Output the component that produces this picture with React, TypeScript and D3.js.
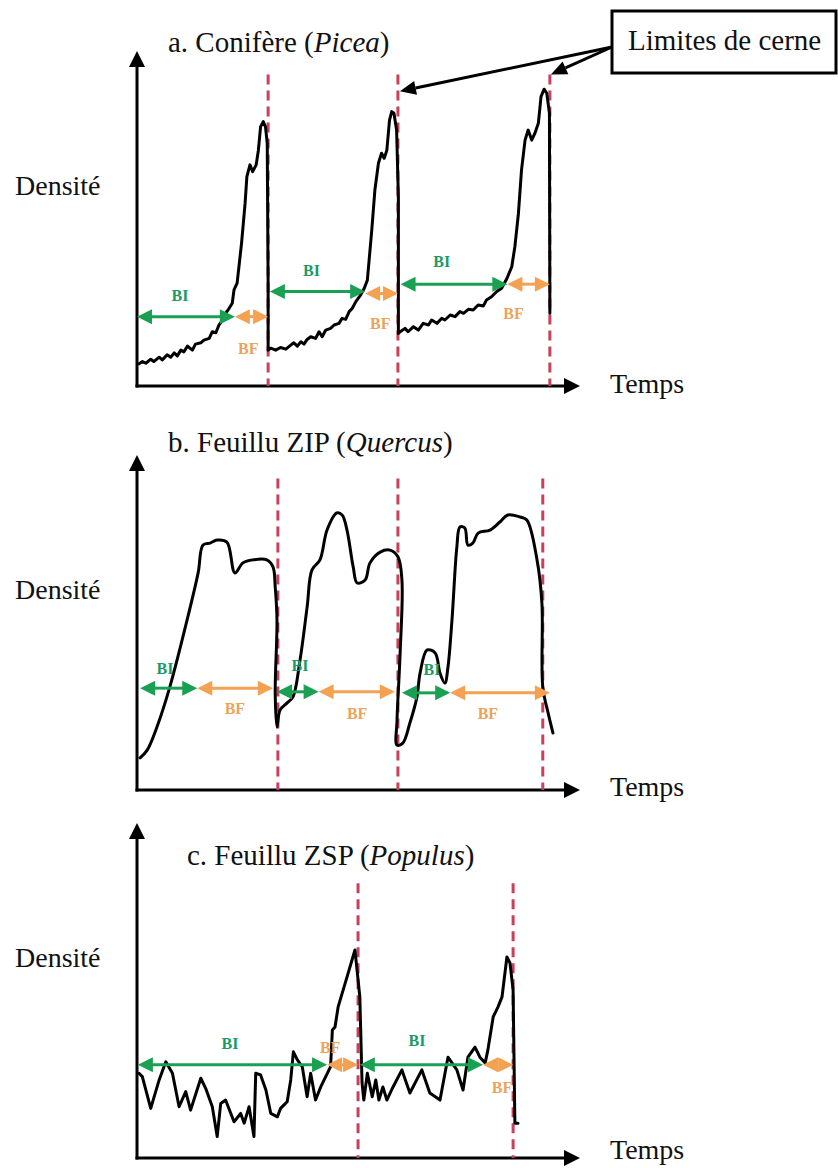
import React from 'react';
import * as d3 from 'd3';

type Pt = [number, number];
type Zone = [string, number, number, number];
type Label = [string, number, number];

// time (0-100) vs relative density (0-100)

// a. Conifère (Picea)
const piceaProfile: Pt[] = [
  [0.45, 6.6], [1.2, 7.3], [2.0, 6.8], [3.1, 8.0], [3.8, 7.3], [5.0, 8.6], [5.7, 7.8], [6.8, 9.3],
  [7.6, 8.6], [8.4, 9.9], [9.1, 9.0], [9.9, 10.7], [10.6, 10.2], [11.4, 11.9], [12.5, 10.7],
  [13.2, 12.5], [14.4, 12.9], [15.1, 13.7], [16.3, 14.2], [17.0, 16.2], [17.8, 15.9], [18.5, 18.2],
  [19.3, 19.7], [20.0, 21.7], [20.8, 23.2], [21.5, 24.7], [21.9, 28.7], [22.6, 30.7],
  [23.6, 42.6], [24.4, 54.5], [24.8, 62.5],
  [25.5, 66.0], [26.1, 64.0], [26.9, 66.0], [27.4, 70.4], [27.9, 77.4], [28.5, 78.9], [29.0, 77.4],
  [29.4, 72.4], [29.6, 30.0], [29.6, 10.7],
  [30.2, 11.3], [31.3, 10.7], [32.4, 11.5], [33.6, 11.0], [34.7, 12.2], [35.4, 12.9], [36.2, 11.9],
  [37.0, 13.2], [37.7, 12.5], [38.4, 13.9], [39.2, 14.7], [40.3, 14.2], [41.1, 16.2], [41.8, 14.7],
  [42.6, 16.7], [43.7, 17.2], [44.5, 18.2], [45.6, 18.7], [46.3, 20.2], [47.1, 19.9], [47.9, 22.2],
  [48.6, 23.2], [49.4, 25.2], [50.5, 27.2], [51.3, 29.2], [52.0, 31.6],
  [53.0, 46.6], [53.7, 58.5], [54.5, 66.5], [55.2, 69.5],
  [55.8, 68.0], [56.4, 70.4], [57.0, 79.4], [57.5, 81.9], [58.0, 81.4], [58.6, 76.4], [59.0, 56.5],
  [59.0, 15.7],
  [59.4, 16.2], [60.5, 17.2], [61.2, 16.2], [62.4, 17.7], [63.5, 16.7], [64.6, 18.7], [65.8, 18.2],
  [66.5, 19.7], [67.7, 18.7], [68.8, 20.2], [69.5, 19.7], [70.7, 21.2], [71.8, 20.7], [72.9, 22.2],
  [73.7, 21.7], [74.8, 22.9], [75.9, 22.7], [77.0, 24.2], [78.2, 23.9], [78.9, 25.7], [80.1, 26.7],
  [81.2, 28.2], [82.3, 29.2], [83.5, 32.1], [84.6, 35.6], [85.3, 41.6], [86.1, 51.5], [86.8, 64.5],
  [87.6, 73.4], [88.3, 76.4], [89.1, 73.4], [89.8, 75.4], [90.6, 78.4], [91.2, 86.4], [91.9, 88.6],
  [92.5, 87.4], [93.1, 81.4], [93.2, 21.7],
];
const piceaLimits = [29.6, 58.9, 93.2];
const piceaZones: Zone[] = [
  ['BI', 0, 22.1, 20.7], ['BF', 22.1, 29.6, 20.7],
  ['BI', 30.0, 51.5, 28.2], ['BF', 51.5, 58.9, 27.6],
  ['BI', 59.5, 83.6, 30.4], ['BF', 83.6, 93.2, 30.4],
];
const piceaLabels: Label[] = [
  ['BI', 9.7, 27.0], ['BF', 25.1, 11.3], ['BI', 39.4, 34.6], ['BF', 54.9, 18.7], ['BI', 68.8, 37.1], ['BF', 85.0, 21.7],
];

// b. Feuillu ZIP (Quercus)
const quercusProfile: Pt[] = [
  [0.7, 9.6], [2.3, 11.9], [4.5, 18.8], [7.4, 30.7], [11.3, 50.7], [13.8, 64.8], [14.9, 73.1],
  [16.5, 73.7], [18.1, 74.6], [20.3, 74.0], [22.1, 64.8], [23.9, 67.8], [26.2, 68.7], [29.3, 68.7],
  [30.7, 66.6], [31.2, 60.6], [31.6, 50.7], [31.2, 29.0], [31.6, 18.8], [32.3, 23.9], [33.9, 26.0],
  [35.2, 27.8], [36.8, 38.8], [38.4, 54.6], [39.5, 65.7], [41.3, 68.7], [42.9, 77.6], [45.1, 82.7],
  [46.3, 82.1], [47.4, 77.6], [48.8, 66.6], [49.7, 61.8], [51.5, 62.7], [52.6, 67.8], [54.9, 71.0],
  [57.1, 71.6], [58.9, 69.6], [59.8, 62.7], [59.4, 40.9], [58.7, 20.9], [58.7, 13.4], [60.0, 14.0],
  [61.6, 20.0], [63.2, 27.8], [63.9, 34.9], [65.5, 41.8], [67.3, 40.9], [68.4, 34.9], [69.5, 31.9],
  [70.2, 36.7], [71.1, 50.7], [72.2, 72.5], [72.9, 78.5], [74.0, 78.2], [74.7, 73.1], [75.8, 73.7],
  [77.0, 76.7], [79.7, 77.6], [81.9, 80.0], [83.7, 82.1], [86.5, 81.5], [88.0, 80.6], [90.3, 68.7],
  [91.4, 55.8], [91.6, 30.7], [92.8, 23.0], [93.9, 17.0],
];
const quercusLimits = [31.8, 58.9, 91.6];
const quercusZones: Zone[] = [
  ['BI', 0.7, 13.6, 30.4], ['BF', 13.6, 30.7, 30.4],
  ['BI', 31.6, 41.0, 29.3], ['BF', 41.0, 58.2, 29.3],
  ['BI', 59.8, 70.7, 29.0], ['BF', 70.7, 93.2, 29.0],
];
const quercusLabels: Label[] = [
  ['BI', 6.3, 36.4], ['BF', 22.1, 24.5], ['BI', 36.8, 37.3], ['BF', 49.7, 23.0], ['BI', 66.6, 36.1], ['BF', 79.2, 23.0],
];

// c. Feuillu ZSP (Populus)
const populusProfile: Pt[] = [
  [0.45, 25.3], [1.2, 24.3], [3.1, 14.8], [5.0, 23.3], [6.5, 28.7], [8.0, 25.3], [9.5, 15.3],
  [11.0, 19.8], [12.1, 14.3], [14.4, 23.8], [15.5, 20.8], [17.0, 15.3], [18.1, 6.4], [18.9, 16.3],
  [20.0, 17.3], [21.9, 10.8], [23.4, 13.3], [24.2, 10.4], [25.3, 15.3], [26.4, 6.4], [26.8, 25.3],
  [27.9, 24.8], [29.1, 20.3], [30.2, 13.3], [31.7, 12.3], [32.4, 14.8], [33.9, 16.8], [34.7, 23.3],
  [35.3, 31.7], [36.2, 29.3], [37.3, 27.3], [38.4, 18.3], [39.2, 25.3], [40.3, 17.3], [41.5, 21.3],
  [42.6, 24.3], [43.7, 27.3], [44.1, 38.2], [44.7, 39.1], [45.4, 45.1], [47.4, 54.0],
  [49.2, 62.1], [50.3, 48.1], [50.8, 22.4], [51.2, 17.3], [52.0, 25.3], [53.1, 18.3], [53.9, 23.3],
  [54.6, 17.3], [55.5, 21.2], [56.4, 17.3], [57.8, 21.2], [59.8, 26.3], [61.6, 19.4], [64.3, 26.3],
  [66.1, 19.4], [68.4, 17.3], [70.2, 30.1], [72.2, 26.3], [73.6, 20.3], [74.7, 30.1], [76.3, 33.1],
  [77.4, 30.1], [78.6, 28.4], [79.2, 32.2], [80.4, 42.1], [81.5, 45.1], [82.4, 48.1], [83.5, 60.0],
  [84.2, 58.2], [84.9, 50.1], [85.3, 10.4], [86.0, 10.4],
];
const populusLimits = [49.9, 84.9];
const populusZones: Zone[] = [
  ['BI', 0.2, 42.9, 27.8], ['BF', 42.9, 49.9, 27.8],
  ['BI', 50.3, 78.1, 27.8], ['BF', 78.1, 84.9, 27.8],
];
const populusLabels: Label[] = [
  ['BI', 21.0, 34.3], ['BF', 43.6, 33.1], ['BI', 63.2, 35.2], ['BF', 82.4, 21.2],
];

const W = 838;
const H = 1168;
const FONT = '"Liberation Serif", "Times New Roman", serif';
const GREEN = '#19a052';
const ORANGE = '#f4a152';
const GREEN_TXT = '#1b9a66';
const ORANGE_TXT = '#eca35c';
const RED = '#c8405c';

const x = d3.scaleLinear().domain([0, 100]).range([137, 580]);

const panels = [
  { title: 'a. Conifère (', genus: 'Picea', tx: 168, ty: 52, base: 386, tempsY: 393, data: piceaProfile, limits: piceaLimits, limitTop: 93, zones: piceaZones, labels: piceaLabels, smooth: false },
  { title: 'b. Feuillu ZIP (', genus: 'Quercus', tx: 168, ty: 452, base: 790, tempsY: 796, data: quercusProfile, limits: quercusLimits, limitTop: 93, zones: quercusZones, labels: quercusLabels, smooth: true },
  { title: 'c. Feuillu ZSP (', genus: 'Populus', tx: 187, ty: 865, base: 1158, tempsY: 1159, data: populusProfile, limits: populusLimits, limitTop: 82, zones: populusZones, labels: populusLabels, smooth: false },
];

function DoubleArrow({ x1, x2, y, color }: { x1: number; x2: number; y: number; color: string }) {
  const half = 7.5;
  const h = Math.min(15, (x2 - x1) / 2);
  return (
    <g fill={color}>
      {x2 - x1 > 2 * h + 1 && (
        <line x1={x1 + h - 1} x2={x2 - h + 1} y1={y} y2={y} stroke={color} strokeWidth={3} />
      )}
      <path d={`M${x1},${y}L${x1 + h},${y - half}L${x1 + h},${y + half}Z`} />
      <path d={`M${x2},${y}L${x2 - h},${y - half}L${x2 - h},${y + half}Z`} />
    </g>
  );
}

function Pointer({ from, to }: { from: Pt; to: Pt }) {
  const [x0, y0] = from;
  const [x1, y1] = to;
  const a = Math.atan2(y1 - y0, x1 - x0);
  const len = 16;
  const half = 7;
  const bx = x1 - len * Math.cos(a);
  const by = y1 - len * Math.sin(a);
  const px = -Math.sin(a) * half;
  const py = Math.cos(a) * half;
  return (
    <g>
      <line x1={x0} y1={y0} x2={bx} y2={by} stroke="#000" strokeWidth={3} />
      <path d={`M${x1},${y1}L${bx + px},${by + py}L${bx - px},${by - py}Z`} fill="#000" />
    </g>
  );
}

export default function App() {
  const boxAnchor: Pt = [612, 47];
  const yA = d3.scaleLinear().domain([0, 100]).range([386, 51]);
  return (
    <svg width={W} height={H} style={{ position: 'absolute', left: 0, top: 0, background: '#fff' }} fontFamily={FONT}>
      {panels.map((p, i) => {
        const y = d3.scaleLinear().domain([0, 100]).range([p.base, p.base - 335]);
        const line = d3
          .line<Pt>()
          .x(d => x(d[0]))
          .y(d => y(d[1]))
          .curve(p.smooth ? d3.curveCatmullRom.alpha(0.5) : d3.curveLinear);
        const x0 = x(0);
        const xEnd = x(100);
        const yTop = y(100);
        return (
          <g key={i}>
            {/* axes */}
            <line x1={x0} x2={x0} y1={p.base + 1.5} y2={yTop + 14} stroke="#000" strokeWidth={3} />
            <path d={`M${x0},${yTop}L${x0 - 8},${yTop + 16}L${x0 + 8},${yTop + 16}Z`} fill="#000" />
            <line x1={x0 - 1.5} x2={xEnd - 14} y1={p.base} y2={p.base} stroke="#000" strokeWidth={3} />
            <path d={`M${xEnd},${p.base}L${xEnd - 16},${p.base - 8}L${xEnd - 16},${p.base + 8}Z`} fill="#000" />

            <text x={p.tx} y={p.ty} fontSize={29} fill="#111">
              {p.title}
              <tspan fontStyle="italic">{p.genus}</tspan>)
            </text>
            <text x={15} y={p.base - 191} fontSize={28} fill="#111">Densité</text>
            <text x={610} y={p.tempsY} fontSize={28} fill="#111">Temps</text>

            {/* ring limits */}
            {p.limits.map((t, j) => (
              <line key={j} x1={x(t)} x2={x(t)} y1={y(p.limitTop)} y2={p.base} stroke={RED} strokeWidth={3} strokeDasharray="10 6" />
            ))}

            {/* density profile */}
            <path d={line(p.data) ?? ''} fill="none" stroke="#000" strokeWidth={3} strokeLinejoin="round" strokeLinecap="round" />

            {/* BI / BF */}
            {p.zones.map((z, j) => (
              <DoubleArrow key={j} x1={x(z[1])} x2={x(z[2])} y={y(z[3])} color={z[0] === 'BI' ? GREEN : ORANGE} />
            ))}
            {p.labels.map((l, j) => (
              <text key={j} x={x(l[1])} y={y(l[2])} dy="0.35em" textAnchor="middle" fontSize={16} fontWeight="bold" fill={l[0] === 'BI' ? GREEN_TXT : ORANGE_TXT}>
                {l[0]}
              </text>
            ))}
          </g>
        );
      })}

      {/* legend box */}
      <rect x={612} y={11} width={224} height={62} fill="#fff" stroke="#000" strokeWidth={3} />
      <text x={628} y={50} fontSize={29} fill="#111">Limites de cerne</text>
      <Pointer from={boxAnchor} to={[x(piceaLimits[1]) + 2, yA(88)]} />
      <Pointer from={boxAnchor} to={[x(piceaLimits[2]) + 1, yA(93)]} />
    </svg>
  );
}
